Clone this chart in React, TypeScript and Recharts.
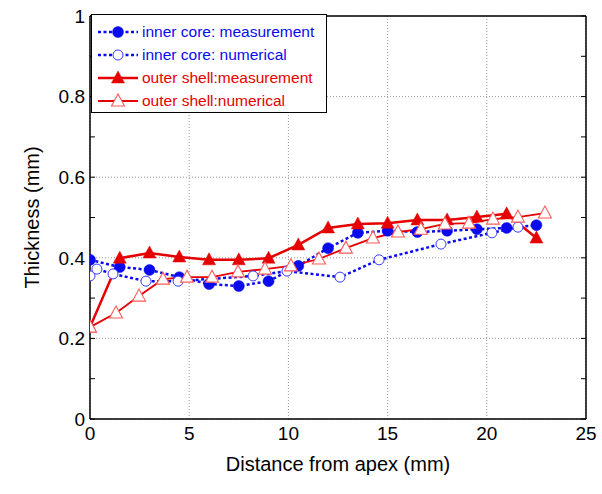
import React from 'react';
import { LineChart, Line, XAxis, YAxis, CartesianGrid, Legend } from 'recharts';

// ---- data (mm) ----
const innerMeasX = [0, 1.5, 3, 4.5, 6, 7.5, 9, 10.5, 12, 13.5, 15, 16.5, 18, 19.5, 21, 22.5];
const innerMeasY = [0.395, 0.377, 0.37, 0.352, 0.335, 0.33, 0.342, 0.38, 0.424, 0.462, 0.467, 0.464, 0.467, 0.471, 0.474, 0.481];

const innerNumX = [0, 0.35, 1.16, 2.82, 4.44, 8.22, 9.93, 12.6, 14.57, 17.69, 20.26, 21.57];
const innerNumY = [0.355, 0.372, 0.36, 0.342, 0.342, 0.355, 0.367, 0.352, 0.395, 0.434, 0.462, 0.476];

const outerMeasX = [0, 1.5, 3, 4.5, 6, 7.5, 9, 10.5, 12, 13.5, 15, 16.5, 18, 19.5, 21, 22.5];
const outerMeasY = [0.228, 0.399, 0.412, 0.402, 0.395, 0.395, 0.399, 0.432, 0.474, 0.484, 0.486, 0.494, 0.494, 0.501, 0.509, 0.449];

const outerNumX = [0, 1.31, 2.47, 3.68, 4.89, 6.15, 7.46, 8.82, 10.13, 11.54, 12.9, 14.26, 15.52, 16.68, 17.89, 19.1, 20.31, 21.57, 22.93];
const outerNumY = [0.228, 0.263, 0.305, 0.347, 0.352, 0.352, 0.365, 0.372, 0.38, 0.397, 0.424, 0.449, 0.464, 0.471, 0.484, 0.486, 0.496, 0.501, 0.511];

const xTicks = [0, 5, 10, 15, 20, 25];
const yTicks = [0, 0.2, 0.4, 0.6, 0.8, 1];
const xMinorTicks = [0, 1, 2, 3, 4, 5, 6, 7, 8, 9, 10, 11, 12, 13, 14, 15, 16, 17, 18, 19, 20, 21, 22, 23, 24, 25];
const yMinorTicks = [0, 0.05, 0.1, 0.15, 0.2, 0.25, 0.3, 0.35, 0.4, 0.45, 0.5, 0.55, 0.6, 0.65, 0.7, 0.75, 0.8, 0.85, 0.9, 0.95, 1];

const seriesNames = [
  'inner core: measurement',
  'inner core: numerical',
  'outer shell:measurement',
  'outer shell:numerical',
];

const zip = (xs: number[], ys: number[]) => xs.map((x, i) => ({ x, y: ys[i] }));
const innerMeas = zip(innerMeasX, innerMeasY);
const innerNum = zip(innerNumX, innerNumY);
const outerMeas = zip(outerMeasX, outerMeasY);
const outerNum = zip(outerNumX, outerNumY);

const BLUE = '#0a0aee';
const BLUE_LIGHT = '#3a3aff';
const RED = '#e60000';
const RED_LIGHT = '#ff5a5a';
const FONT = 'Arial, "Liberation Sans", sans-serif';

type MarkerKind = 'filledCircle' | 'openCircle' | 'filledTri' | 'openTri';

const marker = (kind: MarkerKind, cx: number, cy: number, key?: any) => {
  switch (kind) {
    case 'filledCircle':
      return <circle key={key} cx={cx} cy={cy} r={5.5} fill={BLUE} stroke={BLUE} strokeWidth={0.5} />;
    case 'openCircle':
      return <circle key={key} cx={cx} cy={cy} r={5} fill="#fff" stroke={BLUE_LIGHT} strokeWidth={1} />;
    case 'filledTri':
      return (
        <polygon key={key} points={`${cx},${cy - 7} ${cx - 6.5},${cy + 5} ${cx + 6.5},${cy + 5}`} fill={RED} stroke={RED} strokeWidth={0.5} />
      );
    default:
      return (
        <polygon key={key} points={`${cx},${cy - 7} ${cx - 6.5},${cy + 5} ${cx + 6.5},${cy + 5}`} fill="#fff" stroke={RED_LIGHT} strokeWidth={1.1} />
      );
  }
};

const dotFn = (kind: MarkerKind) => (p: any) => {
  if (p.cx == null || p.cy == null) return <g key={p.index} />;
  return marker(kind, p.cx, p.cy, p.index);
};

const NoTick = () => <g />;

const legendRows: { name: string; color: string; dash?: string; width: number; kind: MarkerKind }[] = [
  { name: seriesNames[0], color: BLUE, dash: '3 2.5', width: 2.5, kind: 'filledCircle' },
  { name: seriesNames[1], color: BLUE, dash: '3 2.5', width: 2.5, kind: 'openCircle' },
  { name: seriesNames[2], color: RED, width: 2.5, kind: 'filledTri' },
  { name: seriesNames[3], color: RED, width: 1.8, kind: 'openTri' },
];

const LegendBox = () => (
  <div
    style={{
      border: '1px solid #000',
      background: '#fff',
      width: 234,
      height: 92,
      boxSizing: 'content-box',
      paddingTop: 5,
      fontFamily: FONT,
    }}
  >
    {legendRows.map((r) => (
      <div key={r.name} style={{ display: 'flex', alignItems: 'center', height: 23 }}>
        <svg width={40} height={20} style={{ marginLeft: 6, marginRight: 4, display: 'block' }}>
          <line x1={0} y1={10} x2={40} y2={10} stroke={r.color} strokeWidth={r.width} strokeDasharray={r.dash} />
          {marker(r.kind, 20, 10)}
        </svg>
        <span style={{ color: r.color, fontSize: 15.5, whiteSpace: 'nowrap', lineHeight: '20px' }}>{r.name}</span>
      </div>
    ))}
  </div>
);

export default function App() {
  return (
    <div style={{ position: 'absolute', left: 0, top: 0, background: '#fff' }}>
      <LineChart width={602} height={494} margin={{ top: 16, right: 16, left: 0, bottom: 0 }}>
        <CartesianGrid stroke="#9a9a9a" strokeDasharray="1 2" strokeWidth={1} />
        <XAxis
          xAxisId={0}
          dataKey="x"
          type="number"
          domain={[0, 25]}
          ticks={xTicks}
          allowDataOverflow
          height={75}
          tickLine={false}
          tickSize={6}
          tickMargin={2}
          axisLine={{ stroke: '#000', strokeWidth: 1.5 }}
          tick={{ fontSize: 19, fill: '#000', fontFamily: FONT }}
          label={{ value: 'Distance from apex (mm)', position: 'insideBottom', offset: 23, style: { fontSize: 20, fill: '#000', fontFamily: FONT } }}
        />
        <XAxis
          xAxisId="xb"
          type="number"
          domain={[0, 25]}
          ticks={xMinorTicks}
          allowDataOverflow
          orientation="bottom"
          mirror
          tickSize={5}
          axisLine={false}
          tickLine={{ stroke: '#000', strokeWidth: 1 }}
          tick={NoTick}
        />
        <XAxis
          xAxisId="xt"
          type="number"
          domain={[0, 25]}
          ticks={xMinorTicks}
          allowDataOverflow
          orientation="top"
          mirror
          tickSize={5}
          axisLine={{ stroke: '#000', strokeWidth: 1.5 }}
          tickLine={{ stroke: '#000', strokeWidth: 1 }}
          tick={NoTick}
        />
        <YAxis
          yAxisId={0}
          type="number"
          domain={[0, 1]}
          ticks={yTicks}
          allowDataOverflow
          width={90}
          tickLine={false}
          tickSize={3}
          tickMargin={2}
          axisLine={{ stroke: '#000', strokeWidth: 1.5 }}
          tick={{ fontSize: 19, fill: '#000', fontFamily: FONT }}
          label={{ value: 'Thickness (mm)', angle: -90, position: 'insideLeft', offset: 32, style: { fontSize: 20, fill: '#000', fontFamily: FONT, textAnchor: 'middle' } }}
        />
        <YAxis
          yAxisId="yl"
          type="number"
          domain={[0, 1]}
          ticks={yMinorTicks}
          allowDataOverflow
          orientation="left"
          mirror
          tickSize={5}
          axisLine={false}
          tickLine={{ stroke: '#000', strokeWidth: 1 }}
          tick={NoTick}
        />
        <YAxis
          yAxisId="yr"
          type="number"
          domain={[0, 1]}
          ticks={yMinorTicks}
          allowDataOverflow
          orientation="right"
          mirror
          tickSize={5}
          axisLine={{ stroke: '#000', strokeWidth: 1.5 }}
          tickLine={{ stroke: '#000', strokeWidth: 1 }}
          tick={NoTick}
        />
        <Legend
          layout="vertical"
          align="center"
          verticalAlign="middle"
          content={() => <LegendBox />}
          wrapperStyle={{ top: 14, left: 91, width: 'auto', height: 'auto' }}
        />
        <Line
          name={seriesNames[0]}
          data={innerMeas}
          dataKey="y"
          stroke={BLUE}
          strokeWidth={2.5}
          strokeDasharray="3 2.5"
          dot={dotFn('filledCircle')}
          activeDot={false}
          isAnimationActive={false}
        />
        <Line
          name={seriesNames[1]}
          data={innerNum}
          dataKey="y"
          stroke={BLUE}
          strokeWidth={2.5}
          strokeDasharray="3 2.5"
          dot={dotFn('openCircle')}
          activeDot={false}
          isAnimationActive={false}
        />
        <Line
          name={seriesNames[2]}
          data={outerMeas}
          dataKey="y"
          stroke={RED}
          strokeWidth={2.5}
          dot={dotFn('filledTri')}
          activeDot={false}
          isAnimationActive={false}
        />
        <Line
          name={seriesNames[3]}
          data={outerNum}
          dataKey="y"
          stroke={RED}
          strokeWidth={1.8}
          dot={dotFn('openTri')}
          activeDot={false}
          isAnimationActive={false}
        />
      </LineChart>
    </div>
  );
}
